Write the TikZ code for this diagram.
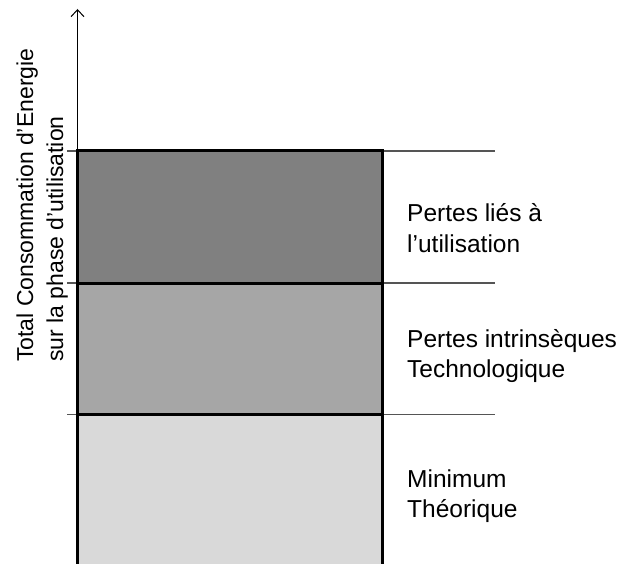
\documentclass[tikz,border=0pt]{standalone}
\usepackage{fontspec}
\setmainfont{Liberation Sans}
\usetikzlibrary{arrows.meta}
\definecolor{gA}{HTML}{808080}
\definecolor{gB}{HTML}{A6A6A6}
\definecolor{gC}{HTML}{D9D9D9}
\definecolor{gL}{HTML}{555555}
\tikzset{
  lbl/.style={anchor=base west, inner sep=0pt, font=\fontsize{24.5}{30}\selectfont},
  vlbl/.style={anchor=base west, inner sep=0pt, rotate=90, font=\fontsize{23}{30}\selectfont},
  border/.style={line width=3pt},
  guide/.style={draw=gL, line width=1.2pt},
}
\begin{document}
\begin{tikzpicture}[x=1pt,y=-1pt]
\useasboundingbox (0,0) rectangle (621,564);
% fills
\fill[gA] (77.5,151) rectangle (382.5,283);
\fill[gB] (77.5,283) rectangle (382.5,414.5);
\fill[gC] (77.5,414.5) rectangle (382.5,564);
% coordinates
\coordinate (tl) at (77.5,151);
\coordinate (tr) at (382.5,151);
\coordinate (ml) at (77.5,283);
\coordinate (mr) at (382.5,283);
\coordinate (bl) at (77.5,414.5);
\coordinate (br) at (382.5,414.5);
\coordinate (bbl) at (77.5,564);
\coordinate (bbr) at (382.5,564);
\coordinate (top) at (77.5,9);
% guides right
\coordinate (r1) at (495,151);
\coordinate (r2) at (495,283);
\coordinate (r3) at (495,414.5);
\draw[guide] (tr) -- (r1);
\draw[guide] (mr) -- (r2);
\draw[guide] (br) -- (r3);
% ticks left
\coordinate (t1) at (67,151);
\coordinate (t2) at (67,283);
\coordinate (t3) at (67,414.5);
\draw[guide] (t1) -- (tl);
\draw[guide] (t2) -- (ml);
\draw[guide] (t3) -- (bl);
% borders
\draw[border] (bbl) -- (tl) -- (tr) -- (bbr);
\draw[border] (ml) -- (mr);
\draw[border] (bl) -- (br);
% axis
\draw[line width=1pt, -{Straight Barb[length=7pt,width=13pt]}] (tl) -- (top);
% vertical labels
\node[vlbl] (v1) at (33,362) {Total Consommation d’Energie};
\node[vlbl] (v2) at (63,362) {sur la phase d’utilisation};
% right labels
\node[lbl] (a1) at (407,222) {Pertes liés à};
\node[lbl] (a2) at (407,252) {l’utilisation};
\node[lbl] (b1) at (407,347) {Pertes intrinsèques};
\node[lbl] (b2) at (407,377) {Technologique};
\node[lbl] (c1) at (407,487) {Minimum};
\node[lbl] (c2) at (407,517) {Théorique};
\end{tikzpicture}
\end{document}
